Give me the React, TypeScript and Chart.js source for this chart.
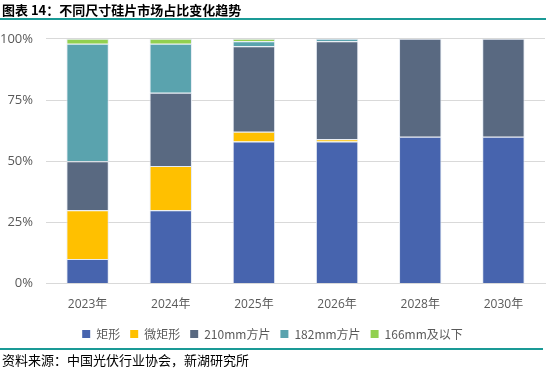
import React, { useEffect, useRef } from "react";
import { Chart, registerables } from "chart.js";

Chart.register(...registerables);

const categories = ["2023年", "2024年", "2025年", "2026年", "2028年", "2030年"];
const rect = [10, 30, 58, 58, 60, 60];
const microRect = [20, 18, 4, 1, 0, 0];
const sq210 = [20, 30, 35, 40, 40, 40];
const sq182 = [48, 20, 2, 1, 0, 0];
const sq166 = [2, 2, 1, 0, 0, 0];
const yTicks = [0, 25, 50, 75, 100];

const seriesNames = ["矩形", "微矩形", "210mm方片", "182mm方片", "166mm及以下"];
const colors = ["#4764AE", "#FFC000", "#596981", "#5AA3AE", "#92D050"];

export default function App() {
  const ref = useRef<HTMLCanvasElement | null>(null);
  useEffect(() => {
    document.body.style.margin = "0";
    const data = [rect, microRect, sq210, sq182, sq166];
    const chart = new Chart(ref.current!, {
      type: "bar",
      data: {
        labels: categories,
        datasets: data.map((d, i) => ({
          label: seriesNames[i],
          data: d,
          backgroundColor: colors[i],
          borderColor: "rgba(225,232,242,0.9)",
          borderWidth: 1,
          categoryPercentage: 1,
          barPercentage: 0.51,
        })),
      },
      options: {
        animation: false,
        responsive: false,
        maintainAspectRatio: false,
        layout: { padding: { left: 0, right: 5, top: 0, bottom: 0 } },
        plugins: {
          tooltip: { enabled: false },
          legend: {
            position: "bottom",
            labels: {
              boxWidth: 8,
              boxHeight: 8,
              padding: 10,
              color: "#595959",
              font: { family: "'Noto Sans CJK SC', 'Open Sans', sans-serif", size: 12 },
              generateLabels: (c: any) =>
                seriesNames.map((n, i) => ({
                  text: n,
                  fillStyle: colors[i],
                  strokeStyle: colors[i],
                  lineWidth: 0,
                  datasetIndex: i,
                  hidden: false,
                  fontColor: "#595959",
                })),
            },
          },
        },
        scales: {
          x: {
            stacked: true,
            grid: { display: false },
            border: { color: "#d9d9d9" },
            ticks: {
              color: "#595959",
              padding: 6,
              font: { family: "'Open Sans', 'Noto Sans CJK SC', sans-serif", size: 12 },
            },
          },
          y: {
            stacked: true,
            min: 0,
            max: 100,
            afterBuildTicks: (axis: any) => {
              axis.ticks = yTicks.map((v) => ({ value: v }));
            },
            afterFit: (axis: any) => {
              axis.width = 46;
            },
            grid: { color: "#d9d9d9", drawTicks: false },
            border: { display: false },
            ticks: {
              color: "#595959",
              padding: 13,
              callback: (v: any) => v + "%",
              font: { family: "'Open Sans', sans-serif", size: 13 },
            },
          },
        },
      },
    });
    return () => chart.destroy();
  }, []);

  return (
    <div
      style={{
        position: "absolute",
        left: 0,
        top: 0,
        width: 550,
        height: 370,
        background: "#fff",
        overflow: "hidden",
      }}
    >
      <canvas
        ref={ref}
        width={550}
        height={332}
        style={{ position: "absolute", left: 0, top: 18, width: 550, height: 332 }}
      />
      <div
        style={{
          position: "absolute",
          left: 2,
          top: 1,
          fontFamily: "'Noto Sans CJK SC', sans-serif",
          fontWeight: 700,
          fontSize: 13,
          color: "#000",
          whiteSpace: "nowrap",
          lineHeight: "17px",
        }}
      >
        图表 14：不同尺寸硅片市场占比变化趋势
      </div>
      <div
        style={{
          position: "absolute",
          left: 0,
          top: 18,
          width: 546,
          height: 2,
          background: "#1A9A96",
        }}
      />
      <div
        style={{
          position: "absolute",
          left: 0,
          top: 348,
          width: 543,
          height: 2,
          background: "#1A9A96",
        }}
      />
      <div
        style={{
          position: "absolute",
          left: 2,
          top: 352,
          fontFamily: "'Noto Sans CJK SC', sans-serif",
          fontSize: 13,
          color: "#000",
          whiteSpace: "nowrap",
          lineHeight: "16px",
        }}
      >
        资料来源：中国光伏行业协会，新湖研究所
      </div>
    </div>
  );
}
